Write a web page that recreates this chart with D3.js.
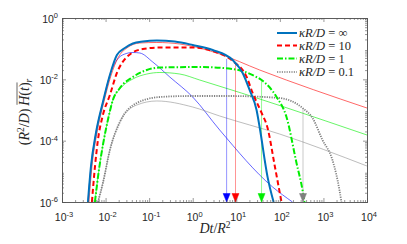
<!DOCTYPE html>
<html>
<head>
<meta charset="utf-8">
<script src="https://cdn.jsdelivr.net/npm/d3@7"></script>
<style>
body { margin: 0; background: #fff; }
</style>
</head>
<body>
<svg id="chart" width="407" height="244"></svg>
<script>
// kappa R / D = infinity (thick blue)
var tInf = [0.00394, 0.00461, 0.00601, 0.00869, 0.01256, 0.0182, 0.0277, 0.0423, 0.0716, 0.15, 0.387, 1.0, 2.87, 8.26, 14.0, 20.2, 29.2, 34.3, 52.3, 71.8];
var hInf = [1e-6, 1.39e-5, 1.78e-4, 1.82e-3, 0.01386, 0.0622, 0.105, 0.1475, 0.1714, 0.1846, 0.171, 0.1318, 0.0905, 0.0427, 0.0161, 4.49e-3, 1.0e-3, 2.79e-4, 6.5e-6, 1e-6];
// kappa R / D = 10 (red dashed)
var t10 = [0.00486, 0.0057, 0.00668, 0.00869, 0.01256, 0.0182, 0.0308, 0.0716, 0.176, 1.0, 2.87, 8.26, 17.3, 23.7, 38.1, 52.3, 75.7, 109];
var h10 = [1e-6, 1.39e-5, 1.05e-4, 6.9e-4, 3.08e-3, 0.0161, 0.0535, 0.0975, 0.109, 0.109, 0.0839, 0.0396, 0.0119, 3.59e-3, 8.0e-4, 2.59e-4, 1.61e-5, 1e-6];
// kappa R / D = 1 (green dash-dot)
var t1 = [0.0057, 0.00704, 0.00869, 0.0113, 0.01472, 0.0213, 0.0423, 0.0885, 0.176, 1.45, 8.26, 29.2, 38.1, 84, 142, 241, 331, 368];
var h1 = [1e-6, 1.11e-5, 7.2e-5, 4.72e-4, 2.12e-3, 5.22e-3, 0.0119, 0.0202, 0.0243, 0.0252, 0.0217, 0.0119, 9.5e-3, 2.65e-3, 5.9e-4, 1.87e-5, 2.47e-6, 1e-6];
// kappa R / D = 0.1 (gray dotted)
var t01 = [0.00668, 0.00869, 0.01256, 0.0213, 0.0522, 0.176, 0.855, 7.05, 98.4, 331, 561, 951, 1611, 2330, 2590];
var h01 = [1e-6, 4.17e-6, 4.97e-5, 4.06e-4, 1.69e-3, 2.65e-3, 2.86e-3, 2.86e-3, 2.46e-3, 1.16e-3, 5.5e-4, 1.05e-4, 2.34e-5, 2.47e-6, 1e-6];

// thin approximation curves
var thinBlueT = [0.00394, 0.00461, 0.00601, 0.00869, 0.01256, 0.0182, 0.0277, 0.0423, 0.0612, 0.121, 0.298, 1.0, 4.16, 68.1, 195];
var thinBlueH = [1e-6, 1.39e-5, 1.78e-4, 1.82e-3, 0.01386, 0.0427, 0.067, 0.075, 0.0722, 0.0367, 0.0119, 2.65e-3, 2.23e-4, 3.09e-6, 1e-6];
var thinRedT = [0.00415, 0.00486, 0.00634, 0.00916, 0.01324, 0.0192, 0.0308, 0.0612, 0.15, 0.505, 1.45, 4.16, 34.3, 10000];
var thinRedH = [1e-6, 1.39e-5, 1.78e-4, 1.82e-3, 0.01285, 0.0496, 0.105, 0.153, 0.159, 0.142, 0.105, 0.067, 0.0202, 1.16e-3];
var thinGreenT = [0.0057, 0.00704, 0.00869, 0.0113, 0.01472, 0.0213, 0.0423, 0.0885, 0.176, 0.505, 1.45, 10000];
var thinGreenH = [1e-6, 1.11e-5, 7.2e-5, 4.72e-4, 2.12e-3, 4.84e-3, 0.01026, 0.0149, 0.0167, 0.0149, 9.5e-3, 1.53e-4];
var thinGrayT = [0.00668, 0.00869, 0.01256, 0.0213, 0.0522, 0.15, 1.0, 4.16, 98.4, 10000];
var thinGrayH = [1e-6, 4.17e-6, 4.97e-5, 4.06e-4, 1.46e-3, 1.97e-3, 1.25e-3, 6.38e-4, 1.65e-4, 1.49e-5];

// characteristic times (arrows) and where their drop lines start
var markerT = [6.0, 9.6, 38, 340];
var markerTop = [0.046, 0.0367, 9.5e-3, 1.16e-3];
var markerColors = ["#0000ff", "#ff0000", "#00ee00", "#808080"];

var legendLabels = ["\u221e", "10", "1", "0.1"];
var xTicks = [1e-3, 1e-2, 1e-1, 1e0, 1e1, 1e2, 1e3, 1e4];
var yTicks = [1e-6, 1e-4, 1e-2, 1e0];

var svg = d3.select("#chart");
var mLeft = 62, mRight = 367, mTop = 18, mBottom = 202;

var x = d3.scaleLog().domain([1e-3, 1e4]).range([mLeft, mRight]);
var y = d3.scaleLog().domain([1e-6, 1]).range([mBottom, mTop]);

var axisColor = "#555";
var tickFont = "'Liberation Sans', Arial, sans-serif";
var mathFont = "'Liberation Serif', 'Times New Roman', serif";

svg.append("clipPath").attr("id", "plotclip")
	.append("rect").attr("x", mLeft).attr("y", mTop).attr("width", mRight - mLeft).attr("height", mBottom - mTop);

var plot = svg.append("g").attr("clip-path", "url(#plotclip)");

var line = d3.line()
	.x(function(d) { return x(d[0]); })
	.y(function(d) { return y(d[1]); })
	.curve(d3.curveMonotoneX);

function drawCurve(ts, hs, color, width, dash) {
	var pts = d3.zip(ts, hs);
	var p = plot.append("path")
		.attr("d", line(pts))
		.attr("fill", "none")
		.attr("stroke", color)
		.attr("stroke-width", width)
		.attr("stroke-linejoin", "round");
	if (dash) p.attr("stroke-dasharray", dash);
	return p;
}

// thin curves
drawCurve(thinBlueT, thinBlueH, "#0000ff", 0.6);
drawCurve(thinRedT, thinRedH, "#ff0000", 0.6);
drawCurve(thinGreenT, thinGreenH, "#00ee00", 0.6);
drawCurve(thinGrayT, thinGrayH, "#909090", 0.6);

// drop lines
markerT.forEach(function(t, i) {
	plot.append("line")
		.attr("x1", x(t)).attr("x2", x(t))
		.attr("y1", y(markerTop[i])).attr("y2", y(1e-6))
		.attr("stroke", markerColors[i])
		.attr("stroke-opacity", 0.7)
		.attr("stroke-width", 0.6);
});

// main curves
drawCurve(t01, h01, "#808080", 1.8, "1.2,1.2");
drawCurve(t1, h1, "#00ee00", 2, "6,2,1.5,2");
drawCurve(t10, h10, "#ff0000", 2, "5,3");
drawCurve(tInf, hInf, "#0072bd", 2);

// arrows
markerT.forEach(function(t, i) {
	var cx = x(t), cy = y(1e-6);
	svg.append("path")
		.attr("d", "M" + (cx - 3.5) + "," + (cy - 8.5) + "L" + (cx + 3.5) + "," + (cy - 8.5) + "L" + cx + "," + cy + "Z")
		.attr("fill", markerColors[i])
		.attr("stroke", markerColors[i])
		.attr("stroke-width", 0.5);
});

// axes, MATLAB style box with inward ticks
function minorTicks(lo, hi) {
	var v = [];
	for (var e = lo; e < hi; e++)
		for (var k = 2; k <= 9; k++) v.push(k * Math.pow(10, e));
	return v;
}
var xMinor = minorTicks(-3, 4);
var yMinor = minorTicks(-6, 0);

function styleAxis(g) {
	g.select(".domain").attr("stroke", axisColor).attr("stroke-width", 0.8);
	g.selectAll(".tick line").attr("stroke", axisColor).attr("stroke-width", 0.6);
}

var axes = [
	[d3.axisBottom, "translate(0," + mBottom + ")", x, xTicks, xMinor],
	[d3.axisTop, "translate(0," + mTop + ")", x, xTicks, xMinor],
	[d3.axisLeft, "translate(" + mLeft + ",0)", y, yTicks, yMinor],
	[d3.axisRight, "translate(" + mRight + ",0)", y, yTicks, yMinor]
];
axes.forEach(function(a) {
	svg.append("g").attr("transform", a[1])
		.call(a[0](a[2]).tickValues(a[4]).tickSize(-2).tickFormat(""))
		.call(styleAxis);
	svg.append("g").attr("transform", a[1])
		.call(a[0](a[2]).tickValues(a[3]).tickSize(-4).tickFormat(""))
		.call(styleAxis);
});

function powerLabel(sel, v) {
	var e = Math.round(Math.log10(v));
	sel.append("tspan").text("10");
	sel.append("tspan").attr("dy", -4.5).attr("font-size", 7.5).text(e);
}

xTicks.forEach(function(v) {
	var t = svg.append("text")
		.attr("x", x(v) + 2).attr("y", 221)
		.attr("text-anchor", "middle")
		.attr("font-family", tickFont).attr("font-size", 10.5)
		.attr("fill", "#262626");
	powerLabel(t, v);
});

yTicks.forEach(function(v) {
	var t = svg.append("text")
		.attr("x", mLeft - 4).attr("y", y(v) + 4.5)
		.attr("text-anchor", "end")
		.attr("font-family", tickFont).attr("font-size", 10.5)
		.attr("fill", "#262626");
	powerLabel(t, v);
});

// x label
var xl = svg.append("text")
	.attr("x", 215).attr("y", 233)
	.attr("text-anchor", "middle")
	.attr("font-family", mathFont).attr("font-size", 14)
	.attr("fill", "#262626");
xl.append("tspan").attr("font-style", "italic").text("Dt");
xl.append("tspan").text("/");
xl.append("tspan").attr("font-style", "italic").text("R");
xl.append("tspan").attr("dy", -5).attr("font-size", 9.5).text("2");

// y label
var yg = svg.append("g").attr("transform", "translate(29,112) rotate(-90)");
var yl = yg.append("text")
	.attr("x", 0).attr("y", 0)
	.attr("text-anchor", "middle")
	.attr("font-family", mathFont).attr("font-size", 14)
	.attr("fill", "#262626");
yl.append("tspan").text("(");
yl.append("tspan").attr("font-style", "italic").text("R");
yl.append("tspan").attr("dy", -5).attr("font-size", 9.5).text("2");
yl.append("tspan").attr("dy", 5).text("/");
yl.append("tspan").attr("font-style", "italic").text("D");
yl.append("tspan").text(")\u2009");
yl.append("tspan").attr("font-style", "italic").text("H");
yl.append("tspan").text("(");
yl.append("tspan").attr("font-style", "italic").text("t");
yl.append("tspan").text(")");
yl.append("tspan").attr("dy", 3).attr("font-size", 9.5).attr("font-style", "italic").text("r");
// overline over H(t)
var yn = yl.node();
var s = yn.textContent.indexOf("H");
var x0 = yn.getStartPositionOfChar(s).x;
var x1 = yn.getEndPositionOfChar(s + 3).x;
yg.append("line")
	.attr("x1", x0 + 1).attr("x2", x1)
	.attr("y1", -12).attr("y2", -12)
	.attr("stroke", "#262626").attr("stroke-width", 0.7);

// legend
var legendY = [33, 45.5, 58.5, 72];
var legendStyles = [
	["#0072bd", null, 2],
	["#ff0000", "5,3", 2],
	["#00ee00", "6,2,1.5,2", 2],
	["#808080", "1.2,1.2", 1.6]
];
legendLabels.forEach(function(lab, i) {
	var ly = legendY[i];
	var st = legendStyles[i];
	var l = svg.append("line")
		.attr("x1", 277).attr("x2", 297)
		.attr("y1", ly).attr("y2", ly)
		.attr("stroke", st[0]).attr("stroke-width", st[2]);
	if (st[1]) l.attr("stroke-dasharray", st[1]);
	var t = svg.append("text")
		.attr("x", 299).attr("y", ly + 4)
		.attr("font-family", mathFont).attr("font-size", 12.5)
		.attr("fill", "#262626");
	t.append("tspan").attr("font-style", "italic").text("\u03baR/D");
	t.append("tspan").text("\u2005=\u2005" + lab);
});
</script>
</body>
</html>
